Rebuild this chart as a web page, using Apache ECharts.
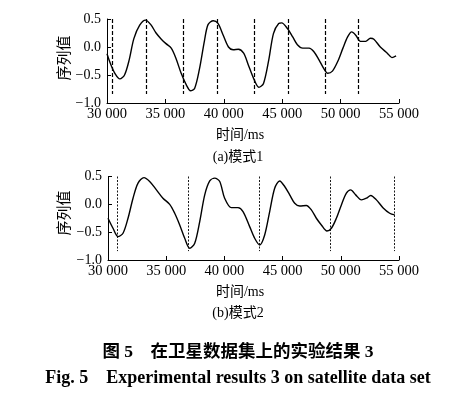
<!DOCTYPE html>
<html>
<head>
<meta charset="utf-8">
<script src="https://cdn.jsdelivr.net/npm/echarts@6/dist/echarts.min.js"></script>
<style>
html,body{margin:0;padding:0;background:#fff;}
#chart{width:450px;height:394px;}
</style>
</head>
<body>
<div id="chart"></div>
<script>
// ---- data ----
var timesA = [30000,30300,30700,31100,31500,31900,32300,32800,33300,33750,34200,34650,35050,35500,35900,36350,36800,37150,37500,37900,38350,38650,39100,39500,39950,40400,40800,41250,41700,42100,42550,43000,43400,43850,44250,44700,44950,45450,45900,46300,46750,47300,47700,48150,48550,48900,49300,49750,50200,50600,50950,51300,51700,52150,52550,52850,53400,54000,54400,54750];
var valuesA = [-0.12,-0.30,-0.48,-0.57,-0.50,-0.23,0.15,0.39,0.48,0.40,0.25,0.14,0.06,-0.02,-0.20,-0.47,-0.68,-0.78,-0.74,-0.41,0.12,0.40,0.47,0.42,0.21,0.00,-0.05,-0.04,-0.11,-0.32,-0.56,-0.72,-0.65,-0.23,0.24,0.42,0.43,0.33,0.18,0.04,-0.02,-0.02,-0.08,-0.23,-0.38,-0.47,-0.43,-0.26,-0.02,0.18,0.27,0.21,0.10,0.10,0.155,0.14,0.00,-0.11,-0.19,-0.16];
var timesB = [30000,30430,30860,31290,31720,32150,32580,33090,33580,34160,34720,35300,35730,36160,36590,37020,37450,37880,38310,38740,39170,39600,40020,40600,41170,41600,42170,42600,43030,43460,43890,44320,44750,45180,45610,46040,46470,47040,47470,47900,48330,48810,49190,49620,50050,50480,50850,51280,51770,52200,52570,53060,53620,54200,54630];
var valuesB = [-0.25,-0.43,-0.58,-0.52,-0.25,0.11,0.38,0.48,0.41,0.26,0.11,0.00,-0.16,-0.37,-0.61,-0.79,-0.70,-0.31,0.17,0.42,0.47,0.41,0.11,-0.06,-0.06,-0.13,-0.40,-0.61,-0.73,-0.55,-0.13,0.29,0.42,0.32,0.17,0.02,-0.03,-0.02,-0.10,-0.25,-0.37,-0.48,-0.43,-0.25,-0.01,0.20,0.26,0.17,0.08,0.11,0.16,0.08,-0.06,-0.16,-0.19];
var dashA = [30454,33399,36507,39478,42586,45522,48664,51515];
var dashB = [30808,36930,43030,49100,54630];
var dashTop = 0.5, dashBottom = -0.84;
var xTicks = [30000,35000,40000,45000,50000,55000];
var yTicks = [-1.0,-0.5,0.0,0.5];
var yName = '序列值';
var xName = '时间/ms';
var subA = '(a)模式1';
var subB = '(b)模式2';
var captionCN = '图 5    在卫星数据集上的实验结果 3';
var captionEN = 'Fig. 5    Experimental results 3 on satellite data set';

function zip(t, v){ return t.map(function(x,i){ return [x, v[i]]; }); }
function fmtX(v){ var s = String(v); return s.slice(0, s.length-3) + ' ' + s.slice(-3); }
function fmtY(v){ return (v < 0 ? '\u2212' : '') + Math.abs(v).toFixed(1); }
function dashLines(arr){
  return arr.map(function(x){ return [{coord:[x, dashTop]},{coord:[x, dashBottom]}]; });
}
var serif = '"Liberation Serif","Times New Roman","Noto Sans CJK SC",serif';
function axisCommon(){
  return {
    axisLine:{show:true, onZero:false, lineStyle:{color:'#000', width:1}},
    axisTick:{show:true, inside:true, length:4, lineStyle:{color:'#000'}},
    splitLine:{show:false}
  };
}
function xAx(idx){
  return Object.assign(axisCommon(), {
    type:'value', gridIndex:idx, min:xTicks[0], max:xTicks[xTicks.length-1], interval:5000,
    axisLabel:{formatter:fmtX, fontFamily:serif, fontSize:14.5, color:'#000', margin:4}
  });
}
function yAx(idx){
  return Object.assign(axisCommon(), {
    type:'value', gridIndex:idx, min:yTicks[0], max:yTicks[yTicks.length-1], interval:0.5,
    axisLabel:{formatter:fmtY, fontFamily:serif, fontSize:14, color:'#000', margin:6}
  });
}
function curve(idx, t, v, dashes, dashStyle){
  return {
    type:'line', xAxisIndex:idx, yAxisIndex:idx, data:zip(t, v), smooth:0.3, showSymbol:false,
    lineStyle:{color:'#000', width:1.4}, animation:false,
    markLine:{silent:true, symbol:['none','none'], label:{show:false},
      lineStyle:dashStyle, data:dashLines(dashes), animation:false}
  };
}
var chart = echarts.init(document.getElementById('chart'), null, {renderer:'canvas'});
var cjk = '"Liberation Serif","Noto Sans CJK SC"';
chart.setOption({
  backgroundColor:'#fff',
  animation:false,
  grid:[
    {left:107, top:19, width:292, height:84},
    {left:108, top:176.5, width:291, height:83.5}
  ],
  xAxis:[xAx(0), xAx(1)],
  yAxis:[yAx(0), yAx(1)],
  series:[
    curve(0, timesA, valuesA, dashA, {color:'#000', width:1.2, type:[4,2]}),
    curve(1, timesB, valuesB, dashB, {color:'#000', width:0.9, type:[2,1.5]})
  ],
  graphic:[
    {type:'text', x:63, y:58, rotation:Math.PI/2, style:{text:yName, font:'15px "Noto Sans CJK SC"', fill:'#000', align:'center', verticalAlign:'middle'}},
    {type:'text', x:63, y:213, rotation:Math.PI/2, style:{text:yName, font:'15px "Noto Sans CJK SC"', fill:'#000', align:'center', verticalAlign:'middle'}},
    {type:'text', x:240, y:135, style:{text:xName, font:'14px ' + cjk, fill:'#000', align:'center', verticalAlign:'middle'}},
    {type:'text', x:240, y:292, style:{text:xName, font:'14px ' + cjk, fill:'#000', align:'center', verticalAlign:'middle'}},
    {type:'text', x:238, y:157, style:{text:subA, font:'14px ' + cjk, fill:'#000', align:'center', verticalAlign:'middle'}},
    {type:'text', x:238, y:313, style:{text:subB, font:'14px ' + cjk, fill:'#000', align:'center', verticalAlign:'middle'}},
    {type:'text', x:238, y:352, style:{text:captionCN, font:'bold 17.5px ' + cjk, fill:'#000', align:'center', verticalAlign:'middle'}},
    {type:'text', x:238, y:378, style:{text:captionEN, font:'bold 18px "Liberation Serif"', fill:'#000', align:'center', verticalAlign:'middle'}}
  ]
});
</script>
</body>
</html>
